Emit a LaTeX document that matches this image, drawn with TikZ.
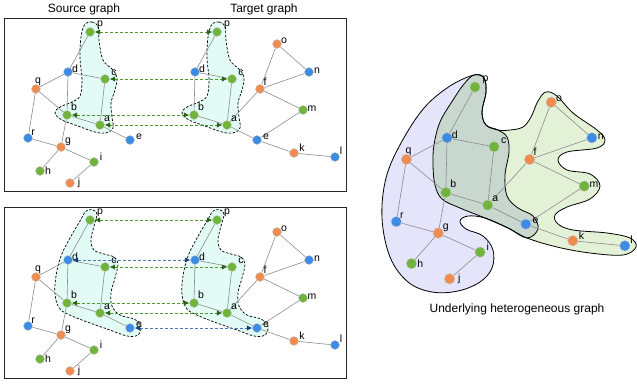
\documentclass[tikz,border=0pt]{standalone}
\usepackage{fontspec}
\setmainfont{Liberation Sans}
\usetikzlibrary{arrows.meta,backgrounds}

\definecolor{vgreen}{HTML}{70B43C}
\definecolor{vblue}{HTML}{3C8CE6}
\definecolor{vorange}{HTML}{F08C50}
\definecolor{hullfill}{HTML}{E2FBF4}
\definecolor{srcfill}{HTML}{E4E4FB}
\definecolor{tgtfill}{HTML}{E3F1D6}
\definecolor{bothfill}{HTML}{C8D8CE}
\definecolor{mgreen}{HTML}{4E9A2C}
\definecolor{dgreen}{HTML}{2A6410}
\definecolor{mblue}{HTML}{4A78B8}
\definecolor{dblue}{HTML}{173E7C}

% vertices: name/x/y/colour/label angle/label distance
\newcommand{\sharednodes}{p/90/32/vgreen/35/7.5, d/68/72/vblue/23/2.9, c/105/79/vgreen/34/6.1, b/67/115/vgreen/49/5.9, a/100/125/vgreen/41/4.5, e/130/140/vblue/18/4.8}
\newcommand{\srcnodes}{q/36/89/vorange/74/2.6, r/28/138/vblue/45/2.4, g/61/147/vorange/36/3.9, i/94/162/vgreen/36/3.9, h/40/171/vgreen/0/3.3, j/70/183/vorange/0/4.3}
\newcommand{\tgtnodes}{o/150/44/vorange/23/2.9, n/182/72/vblue/7/3.4, f/133/89/vorange/54/3.9, m/176/110/vgreen/6/4.4, k/167/153/vorange/32/4.7, l/208/157/vblue/45/3.8}
\newcommand{\sharededges}{p/d, d/c, d/b, c/a, b/a, a/e}
\newcommand{\srcedges}{d/q, q/b, q/r, r/g, b/g, g/h, g/i, i/j}
\newcommand{\tgtedges}{a/f, f/o, o/n, f/n, f/m, m/e, e/k, k/l}

\newcommand{\graphnodes}[2]{\foreach \n/\x/\y/\col/\ang/\dst in #2
  \node[vtx,fill=\col,label={[lbl,anchor=center,label distance=\dst pt]\ang:\n}] (#1\n) at (\x,\y) {};}
\newcommand{\graphlinks}[2]{\begin{scope}[on background layer]
  \foreach \u/\v in #2 \draw[link] (#1\u) -- (#1\v);
  \end{scope}}

% hull outlines
\newcommand{\tophull}{plot[smooth cycle,tension=0.6] coordinates {(85,24) (92,22) (98,26) (99,40) (103,60) (113,70) (117,78) (115,90) (111,103) (112,117) (113,128) (106,133) (95,132) (78,126) (62,120) (55,113) (60,107) (72,102) (80,96) (82,80) (80,58) (81,37)}}
\newcommand{\bothull}{plot[smooth cycle,tension=0.6] coordinates {(86,23) (93,22) (97,26) (94,38) (91,52) (94,62) (104,66) (114,69) (118,76) (115,90) (111,105) (112,118) (120,127) (134,131) (141,138) (138,147) (127,148) (110,142) (90,135) (72,128) (60,121) (55,107) (56,88) (61,68) (70,50) (80,33)}}
\newcommand{\srchull}{plot[smooth cycle,tension=0.6] coordinates {(474,75) (484,78) (486,92) (482,112) (486,125) (498,130) (507,137) (509,152) (505,175) (507,196) (518,208) (533,216) (538,229) (527,238) (508,228) (485,218) (468,216) (460,221) (466,229) (483,236) (493,250) (492,268) (480,282) (458,291) (432,292) (408,282) (390,257) (382,218) (386,178) (401,143) (424,108) (450,86)}}
\newcommand{\tgthull}{plot[smooth cycle,tension=0.6] coordinates {(474,75) (484,78) (486,92) (482,112) (486,125) (498,130) (510,130) (523,127) (531,117) (538,101) (546,92) (557,96) (573,113) (597,130) (605,140) (597,148) (567,152) (558,160) (567,170) (590,174) (600,186) (590,199) (567,207) (555,215) (558,224) (573,230) (607,233) (630,238) (636,247) (623,255) (590,253) (557,247) (527,238) (508,228) (485,218) (460,208) (442,199) (435,185) (433,165) (434,145) (440,122) (453,100) (464,84)}}

\begin{document}
\begin{tikzpicture}[x=1pt,y=-1pt,
    vtx/.style={circle,inner sep=0pt,minimum size=9pt,draw=black!22,line width=0.4pt},
    lbl/.style={font=\fontsize{10.5}{12}\selectfont,inner sep=0.6pt},
    link/.style={draw=black!45,line width=0.6pt},
    hull/.style={draw=black,fill=hullfill,dash pattern=on 2.5pt off 1.6pt,line width=0.7pt},
    panel/.style={draw=black!85,line width=0.8pt},
    heading/.style={font=\fontsize{12}{14}\selectfont},
    gmatch/.style={draw=mgreen,line width=0.8pt,dash pattern=on 3pt off 2pt,
      {Latex[color=dgreen,length=5.5pt,width=5.5pt]}-{Latex[color=dgreen,length=5.5pt,width=5.5pt]}},
    bmatch/.style={draw=mblue,line width=0.8pt,dash pattern=on 3pt off 2pt,
      {Latex[color=dblue,length=5.5pt,width=5.5pt]}-{Latex[color=dblue,length=5.5pt,width=5.5pt]}}]
  \useasboundingbox (0,0) rectangle (637,386);

  \node[heading] (srctitle) at (84,9) {Source graph};
  \node[heading] (tgttitle) at (264,9) {Target graph};
  \node[heading] (unititle) at (517,309) {Underlying heterogeneous graph};

  % top panel
  \draw[panel] (4,18) rectangle (346,191);
  \begin{scope}[on background layer]
    \draw[hull] \tophull;
    \draw[hull,shift={(127,0)}] \tophull;
  \end{scope}
  \graphnodes{s1}{\sharednodes}
  \graphnodes{s1}{\srcnodes}
  \graphlinks{s1}{\sharededges}
  \graphlinks{s1}{\srcedges}
  \begin{scope}[shift={(127,0)}]
    \graphnodes{t1}{\sharednodes}
    \graphnodes{t1}{\tgtnodes}
    \graphlinks{t1}{\sharededges}
    \graphlinks{t1}{\tgtedges}
  \end{scope}
  \foreach \n in {p,c,b,a} \draw[gmatch] (s1\n) -- (t1\n);

  % bottom panel
  \draw[panel] (4,207) rectangle (346,378);
  \begin{scope}[on background layer]
    \draw[hull,shift={(0,188)}] \bothull;
    \draw[hull,shift={(127,188)}] \bothull;
  \end{scope}
  \begin{scope}[shift={(0,188)}]
    \graphnodes{s2}{\sharednodes}
    \graphnodes{s2}{\srcnodes}
    \graphlinks{s2}{\sharededges}
    \graphlinks{s2}{\srcedges}
  \end{scope}
  \begin{scope}[shift={(127,188)}]
    \graphnodes{t2}{\sharednodes}
    \graphnodes{t2}{\tgtnodes}
    \graphlinks{t2}{\sharededges}
    \graphlinks{t2}{\tgtedges}
  \end{scope}
  \foreach \n in {p,c,b,a} \draw[gmatch] (s2\n) -- (t2\n);
  \foreach \n in {d,e} \draw[bmatch] (s2\n) -- (t2\n);

  % underlying graph
  \begin{scope}[on background layer]
    \fill[srcfill] \srchull;
    \fill[tgtfill] \tgthull;
    \begin{scope}
      \clip \srchull;
      \fill[bothfill] \tgthull;
    \end{scope}
    \draw[line width=0.8pt] \srchull;
    \draw[line width=0.8pt] \tgthull;
  \end{scope}
  \begin{scope}[shift={(360.7,46.4)},scale=1.27,vtx/.append style={minimum size=10.5pt}]
    \graphnodes{u}{\sharednodes}
    \graphnodes{u}{\srcnodes}
    \graphnodes{u}{\tgtnodes}
    \graphlinks{u}{\sharededges}
    \graphlinks{u}{\srcedges}
    \graphlinks{u}{\tgtedges}
  \end{scope}
\end{tikzpicture}
\end{document}
